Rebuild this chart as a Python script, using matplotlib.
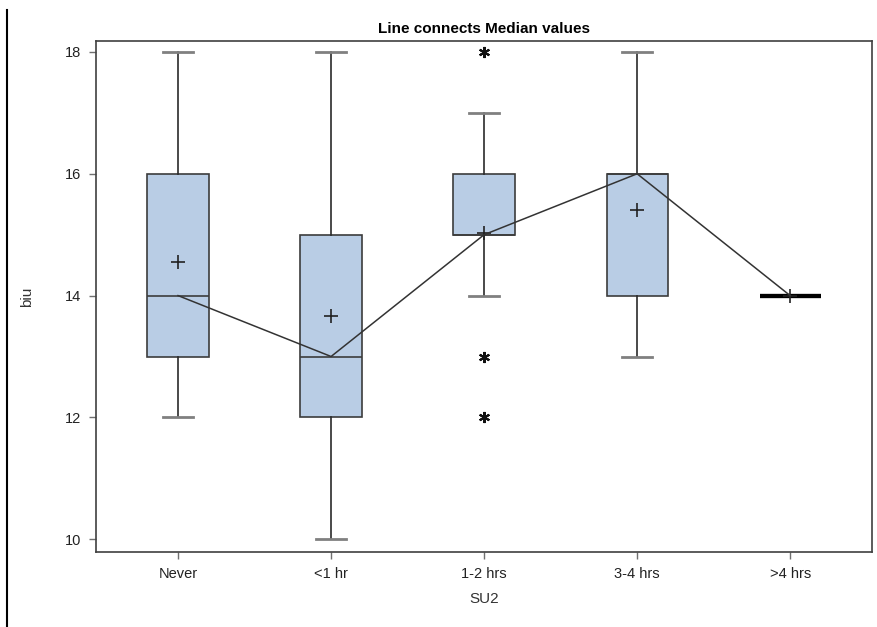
import matplotlib

matplotlib.use("Agg")
import matplotlib.pyplot as plt
from matplotlib.lines import Line2D

plt.rcParams["font.family"] = ["Liberation Sans", "DejaVu Sans"]

# Summary stats for biu by SU2 group
groups = ["Never", "<1 hr", "1-2 hrs", "3-4 hrs", ">4 hrs"]
whisker_low = [12, 10, 14, 13, 14]
q1 = [13, 12, 15, 14, 14]
medians = [14, 13, 15, 16, 14]
q3 = [16, 15, 16, 16, 14]
whisker_high = [18, 18, 17, 18, 14]
means = [14.55, 13.66, 15.03, 15.41, 14.0]
outliers = [[], [], [18, 13, 12], [], []]

box_fill = "#b9cde5"
edge = "#3c3c3c"
cap_color = "#808080"

stats = []
for i, g in enumerate(groups):
    stats.append({
        "label": g,
        "whislo": whisker_low[i],
        "q1": q1[i],
        "med": medians[i],
        "q3": q3[i],
        "whishi": whisker_high[i],
        "mean": means[i],
        "fliers": outliers[i],
    })

fig = plt.figure(figsize=(8.77, 6.27), dpi=100)
ax = fig.add_axes([0.1095, 0.1196, 0.885, 0.815])

pos = list(range(len(groups)))
bp = ax.bxp(
    stats,
    positions=pos,
    widths=0.4,
    patch_artist=True,
    showmeans=True,
    boxprops=dict(facecolor=box_fill, edgecolor=edge, linewidth=1.2),
    medianprops=dict(color=edge, linewidth=1.2),
    whiskerprops=dict(color="#2a2a2a", linewidth=1.2),
    capprops=dict(color=cap_color, linewidth=2),
    capwidths=0.2,
    meanprops=dict(marker="+", markeredgecolor="#222222", markersize=10,
                   markeredgewidth=1.2),
    flierprops=dict(marker=(6, 2, 0), markeredgecolor="#111111",
                    markerfacecolor="#111111", markersize=8,
                    markeredgewidth=1.5, linestyle="none"),
)

# group with a single value collapses to a thick bar
last = len(groups) - 1
if q1[last] == q3[last]:
    bp["boxes"][last].set_linewidth(3)
    bp["boxes"][last].set_edgecolor("black")
    bp["medians"][last].set_color("black")
    bp["medians"][last].set_linewidth(3)
    for c in bp["caps"][2 * last:2 * last + 2]:
        c.set_visible(False)

# line through the medians
ax.plot(pos, medians, color="#333333", linewidth=1.1, zorder=5)

ax.set_xlim(-0.536, 4.536)
ax.set_ylim(9.79, 18.18)
ax.set_yticks([10, 12, 14, 16, 18])
ax.set_xticks(pos)
ax.set_xticklabels(groups)

ax.tick_params(axis="both", direction="out", length=5, width=1,
               color="#707070", labelsize=10.5, labelcolor="#222222", pad=6)
for sp in ax.spines.values():
    sp.set_color("#404040")
    sp.set_linewidth(1.2)

ax.set_xlabel("SU2", fontsize=11, color="#333333", labelpad=8)
ax.set_ylabel("biu", fontsize=11, color="#333333", labelpad=22)
ax.set_title("Line connects Median values", fontsize=11, fontweight="bold",
             pad=6)

# vertical rule along the left edge of the page
fig.add_artist(Line2D([7 / 877, 7 / 877], [0, 1 - 10 / 627], color="black",
                      linewidth=1.5, transform=fig.transFigure))

fig.savefig("out.png", dpi=100)
